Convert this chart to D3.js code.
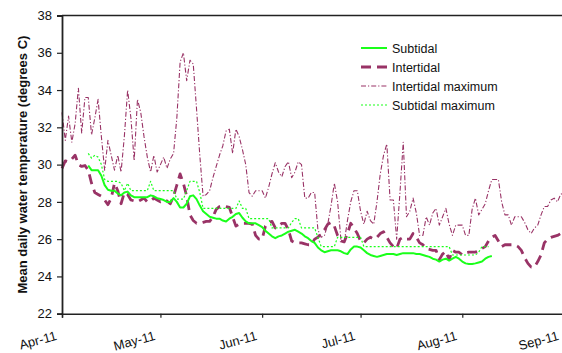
<!DOCTYPE html>
<html><head><meta charset="utf-8">
<script src="https://cdn.jsdelivr.net/npm/d3@7"></script>
<style>
html,body{margin:0;padding:0;background:#fff;}
svg{display:block;font-family:"Liberation Sans",Arial,sans-serif;}
</style></head>
<body><svg id="c" width="562" height="353"></svg>
<script>
// ---- data (daily means, starting dates below) ----
const intertidalStart = "2011-04-01";
const subtidalStart = "2011-04-09";
const monthLabels = ["Apr-11","May-11","Jun-11","Jul-11","Aug-11","Sep-11"];
const yTicks = [22,24,26,28,30,32,34,36,38];
const seriesNames = ["Subtidal","Intertidal","Intertidal maximum","Subtidal maximum"];

const intertidalMax = [32.8,31.3,32.6,31.2,32.2,34.1,31.7,33.6,33.6,31.6,32.5,33.5,31.5,29.7,31.3,30.5,29.7,30.5,29.6,31.5,
34.0,32.5,30.2,33.5,32.8,31.5,30.4,29.6,30.5,29.6,30.0,30.4,29.8,30.3,30.6,32.5,35.5,36.0,34.5,35.6,
35.4,33.0,30.5,28.3,28.4,28.6,29.3,29.9,30.5,31.0,31.8,31.9,30.6,31.9,31.5,30.8,30.0,28.5,28.3,28.6,
28.6,28.6,28.2,28.8,29.5,30.1,29.6,29.35,29.9,30.15,29.3,29.6,30.15,30.0,28.2,28.2,28.5,28.5,26.5,26.1,
26.2,26.8,27.8,29.0,28.0,26.0,25.8,27.0,28.0,28.6,28.6,27.5,26.8,27.5,27.0,26.8,28.0,29.5,30.5,31.1,
28.1,28.1,26.0,28.5,31.2,27.2,27.5,28.2,27.4,26.2,26.2,27.2,26.75,27.4,27.65,26.75,27.2,27.65,26.8,26.2,
26.75,26.75,26.75,26.2,26.2,27.6,28.2,27.3,27.6,27.9,28.6,29.2,29.2,29.2,28.0,27.3,27.3,26.75,27.2,27.2,
27.2,26.9,26.5,26.3,26.6,26.75,27.3,27.75,27.75,28.1,28.2,28.0,28.4,28.5];

const intertidal = [29.8,30.2,30.15,30.3,30.5,30.0,29.9,29.95,29.7,29.0,28.5,28.4,28.3,28.1,27.85,28.2,29.0,28.6,27.9,28.5,
28.4,28.1,28.05,28.0,28.1,28.2,28.0,28.05,28.2,28.1,28.0,28.1,28.05,27.9,28.3,28.9,29.5,29.0,28.3,27.3,
27.0,26.85,26.85,26.9,26.95,26.95,27.2,27.6,27.75,27.8,27.75,27.7,27.2,26.7,26.8,26.85,26.85,26.85,26.8,26.2,
26.0,26.0,26.7,26.9,26.95,26.6,26.7,26.85,26.85,26.5,25.9,25.8,25.8,25.8,25.75,25.7,25.7,26.0,26.1,26.3,
26.5,26.8,26.9,26.7,26.2,25.9,25.85,26.3,26.85,26.6,26.3,25.9,25.8,26.0,26.1,26.0,26.1,26.3,26.4,26.1,
25.8,25.6,25.5,26.0,26.1,26.0,26.0,26.3,26.1,25.8,25.7,25.5,25.45,25.4,25.4,24.9,25.2,25.35,24.9,25.4,
25.3,25.3,25.15,25.25,25.3,25.3,25.3,25.4,25.5,25.6,25.9,26.1,26.2,25.9,25.6,25.7,25.7,25.7,25.7,25.6,
25.4,25.0,24.7,24.5,24.5,24.8,25.15,25.8,26.0,26.1,26.15,26.2,26.3,26.35];

const subtidal = [29.95,29.7,29.7,29.7,29.4,28.9,28.65,28.6,28.6,28.45,28.35,28.5,28.55,28.35,28.25,28.25,28.25,28.25,28.25,28.35,
28.3,28.2,28.15,28.1,28.0,28.0,28.2,28.0,27.7,27.7,27.9,28.3,28.35,28.15,27.8,27.5,27.35,27.2,27.15,27.1,
27.1,27.0,26.95,27.1,27.2,27.35,27.4,27.15,26.95,26.85,26.85,26.85,26.75,26.65,26.45,26.3,26.15,26.05,26.15,26.2,
26.3,26.4,26.45,26.5,26.4,26.3,26.15,26.05,25.9,25.8,25.55,25.4,25.3,25.35,25.4,25.4,25.4,25.35,25.25,25.2,
25.45,25.6,25.6,25.55,25.4,25.25,25.15,25.1,25.05,25.1,25.15,25.2,25.2,25.2,25.15,25.2,25.25,25.25,25.25,25.25,
25.2,25.2,25.15,25.1,25.05,24.95,24.9,24.8,24.9,24.95,24.85,24.95,25.05,24.95,24.8,24.7,24.67,24.67,24.7,24.75,
24.8,24.95,25.05,25.1];

const subtidalMax = [30.6,30.35,30.5,30.4,30.0,29.2,29.1,29.1,29.1,29.1,29.0,28.6,29.0,28.6,28.6,28.6,28.6,28.6,28.6,29.1,
28.6,28.6,28.6,28.6,28.6,28.6,28.6,28.15,28.15,28.15,28.6,29.1,29.1,29.1,28.5,27.65,27.65,27.65,27.65,27.65,
27.65,27.65,27.65,27.65,27.65,27.65,28.05,27.65,27.65,27.1,27.1,27.1,27.1,27.1,27.1,27.1,26.6,26.6,26.6,26.6,
26.6,26.6,26.9,27.1,27.1,26.6,26.6,26.6,26.6,26.6,26.1,25.6,25.6,25.6,25.6,25.6,26.1,26.1,26.1,26.1,
26.1,26.1,26.1,26.1,25.6,25.6,25.6,25.6,25.6,25.6,25.6,25.6,25.6,25.6,25.6,25.6,25.6,25.6,25.6,25.6,
25.6,25.6,25.6,25.6,25.6,25.6,25.6,25.6,25.6,25.6,25.6,25.15,25.15,25.15,25.15,25.15,25.15,25.15,25.15,25.3,
25.6,25.6,25.6];

// ---- chart ----
const svg = d3.select("#c");
const parse = d3.utcParse("%Y-%m-%d");
const x = d3.scaleUtc().domain([parse("2011-04-01"), parse("2011-09-01")]).range([62, 564]);
const y = d3.scaleLinear().domain([22, 38]).range([313.7, 15.5]);

function toPts(arr, start){
  const s = parse(start);
  return arr.map((v,i)=>({d:d3.utcDay.offset(s,i), v}));
}

const styles = {
  "Subtidal": {stroke:"#1aff1a", width:2, dash:null},
  "Intertidal": {stroke:"#993366", width:2.8, dash:"10,6"},
  "Intertidal maximum": {stroke:"#993366", width:1.1, dash:"5,2,1.2,2"},
  "Subtidal maximum": {stroke:"#1aff1a", width:1.2, dash:"2,2"}
};

const line = d3.line().x(p=>x(p.d)).y(p=>y(p.v));
const draw = [
  ["Intertidal maximum", toPts(intertidalMax, intertidalStart)],
  ["Intertidal", toPts(intertidal, intertidalStart)],
  ["Subtidal maximum", toPts(subtidalMax, subtidalStart)],
  ["Subtidal", toPts(subtidal, subtidalStart)]
];
draw.forEach(([name, pts])=>{
  const st = styles[name];
  svg.append("path").datum(pts).attr("d", line)
    .attr("fill","none").attr("stroke", st.stroke).attr("stroke-width", st.width)
    .attr("stroke-dasharray", st.dash).attr("stroke-linejoin","round");
});

// top frame line
svg.append("line").attr("x1",62).attr("x2",564).attr("y1",y(38)).attr("y2",y(38))
  .attr("stroke","#222").attr("stroke-width",1.3);

// y axis
const yAxis = svg.append("g").attr("transform","translate(62,0)")
  .call(d3.axisLeft(y).tickValues(yTicks).tickSize(5).tickPadding(5).tickFormat(d3.format("d")));
yAxis.select(".domain").attr("stroke","#222").attr("stroke-width",1.8);
yAxis.selectAll(".tick line").attr("stroke","#222").attr("stroke-width",1.2);
yAxis.selectAll("text").attr("font-size",13).attr("fill","#111").attr("font-family","Liberation Sans, Arial, sans-serif");

// x axis
const monthDates = monthLabels.map((_,i)=>d3.utcMonth.offset(parse("2011-04-01"), i));
const xAxis = svg.append("g").attr("transform",`translate(0,${y(22)})`)
  .call(d3.axisBottom(x).tickValues(monthDates).tickSize(4).tickFormat((d,i)=>monthLabels[i]));
xAxis.select(".domain").attr("stroke","#222").attr("stroke-width",1.5);
xAxis.selectAll(".tick line").attr("stroke","#222").attr("stroke-width",1.2);
xAxis.selectAll("text")
  .attr("font-size",13).attr("fill","#111").attr("font-family","Liberation Sans, Arial, sans-serif")
  .attr("text-anchor","end").attr("dy",null).attr("y",null)
  .attr("transform","translate(-5,26) rotate(-15)");

// y title
svg.append("text").attr("transform","translate(27,164.6) rotate(-90)")
  .attr("text-anchor","middle").attr("font-size",13).attr("font-weight","bold").attr("fill","#111")
  .text("Mean daily water temperature (degrees C)");

// legend
const lg = svg.append("g");
seriesNames.forEach((name,i)=>{
  const yy = 48 + i*19;
  const st = styles[name];
  lg.append("line").attr("x1",361).attr("x2",387).attr("y1",yy).attr("y2",yy)
    .attr("stroke",st.stroke).attr("stroke-width",st.width).attr("stroke-dasharray",st.dash);
  lg.append("text").attr("x",392).attr("y",yy+4.5).attr("font-size",12.5).attr("fill","#111").text(name);
});
</script></body></html>
